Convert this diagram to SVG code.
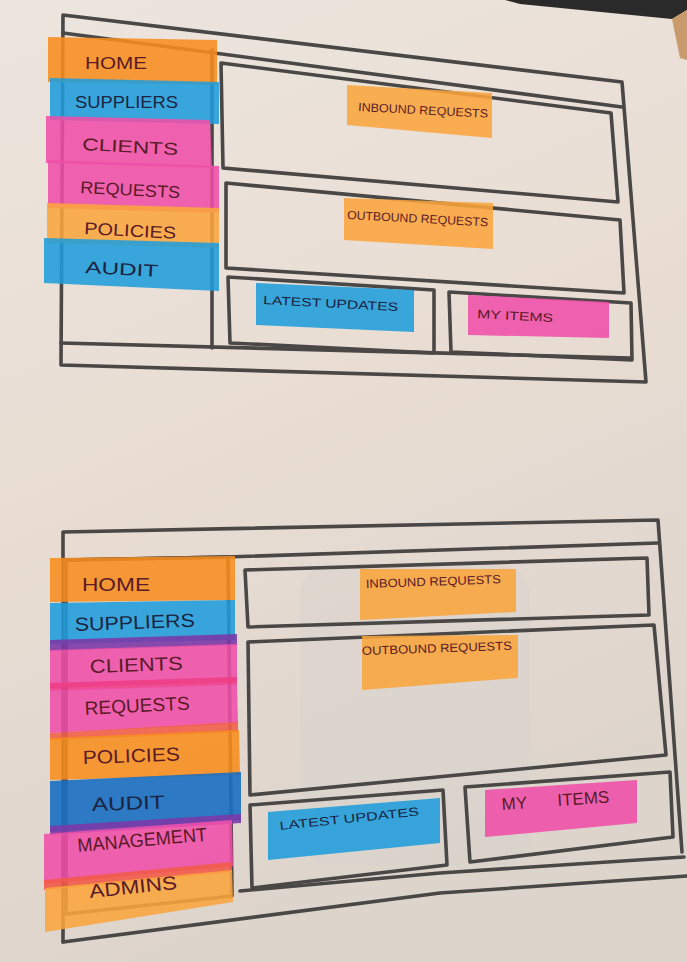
<svg xmlns="http://www.w3.org/2000/svg" width="687" height="962" viewBox="0 0 687 962">
<defs>
<linearGradient id="paper" x1="0" y1="0" x2="0.3" y2="1">
<stop offset="0" stop-color="#ece5de"/>
<stop offset="0.5" stop-color="#e9ddd3"/>
<stop offset="1" stop-color="#ddd4cc"/>
</linearGradient>
<style>
.ln{fill:none;stroke:#4a4747;stroke-width:3.6;stroke-linejoin:round;stroke-linecap:round}
.or{fill:#f78d1e;opacity:0.88}
.lo{fill:#fba53e;opacity:0.88}
.bl{fill:#1f9ddc;opacity:0.88}
.db{fill:#1a6fc2;opacity:0.9}
.pk{fill:#ef4fa9;opacity:0.88}
.t{font-family:"Liberation Sans",Arial,sans-serif;fill:#5a1a26;font-size:17px}
.b{fill:#1b2442}
.m{font-size:19px}
.s{font-size:12px}
</style>
</defs>
<rect width="687" height="962" fill="url(#paper)"/>
<polygon points="505,0 687,0 687,10 672,19 520,4" fill="#2b2a2a"/>
<polygon points="672,19 687,10 687,60 680,58" fill="#c99a6c"/>
<rect x="300" y="565" width="230" height="300" rx="30" fill="#d8d2cc" opacity="0.45"/>

<g id="connectors">
<!-- top wireframe -->
<polygon class="ln" points="63,15 622,82 646,382 61,365"/>
<polyline class="ln" points="63,33 622,107"/>
<polyline class="ln" points="61,343 630,358"/>
<polyline class="ln" points="212,50 212,348"/>
<polygon class="ln" points="221,63 611,113 618,202 223,168"/>
<polygon class="ln" points="226,183 620,220 624,293 226,268"/>
<polygon class="ln" points="228,277 434,290 434,353 230,343"/>
<polygon class="ln" points="449,292 631,303 632,360 451,352"/>
<!-- bottom wireframe -->
<polyline class="ln" points="63,942 63,532 658,520 682,852"/>
<polyline class="ln" points="63,560 227,557 658,543"/>
<polyline class="ln" points="240,891 440,873 684,857"/>
<polyline class="ln" points="63,942 440,893 687,876"/>
<polygon class="ln" points="66,560 228,557 232,896 66,914"/>
<polygon class="ln" points="245,570 647,558 649,615 248,627"/>
<polygon class="ln" points="248,642 654,625 666,755 250,795"/>
<polygon class="ln" points="250,805 443,790 447,865 252,888"/>
<polygon class="ln" points="465,787 670,772 673,837 470,862"/>
</g>

<!-- top sidebar -->
<g id="t-home"><polygon class="or" points="48,37 217,40 217,85 48,82"/><text class="t" x="85" y="69" textLength="62" lengthAdjust="spacingAndGlyphs">HOME</text></g>
<g id="t-suppliers"><polygon class="bl" points="50,78 219,82 219,124 50,120"/><text class="t b" x="75" y="108" textLength="103" lengthAdjust="spacingAndGlyphs">SUPPLIERS</text></g>
<g id="t-clients"><polygon class="pk" points="46,116 210,120 212,168 46,163"/><text class="t" x="82" y="150" textLength="96" lengthAdjust="spacingAndGlyphs" transform="rotate(3 82 150)">CLIENTS</text></g>
<g id="t-requests"><polygon class="pk" points="48,160 219,166 219,213 48,208"/><text class="t" x="80" y="193" textLength="100" lengthAdjust="spacingAndGlyphs" transform="rotate(3 80 193)">REQUESTS</text></g>
<g id="t-policies"><polygon class="lo" points="47,203 219,208 219,248 47,243"/><text class="t" x="84" y="234" textLength="92" lengthAdjust="spacingAndGlyphs" transform="rotate(3 84 234)">POLICIES</text></g>
<g id="t-audit"><polygon class="bl" points="44,238 219,243 219,291 44,283"/><text class="t b" x="85" y="273" textLength="73" lengthAdjust="spacingAndGlyphs" transform="rotate(3 85 273)">AUDIT</text></g>
<!-- top content -->
<g id="t-inbound"><polygon class="lo" points="347,85 492,93 492,138 347,125"/><text class="t s" x="358" y="111" textLength="130" lengthAdjust="spacingAndGlyphs" transform="rotate(3 358 111)">INBOUND REQUESTS</text></g>
<g id="t-outbound"><polygon class="lo" points="344,198 493,203 493,249 344,240"/><text class="t s" x="347" y="219" textLength="141" lengthAdjust="spacingAndGlyphs" transform="rotate(3 347 219)">OUTBOUND REQUESTS</text></g>
<g id="t-latest"><polygon class="bl" points="256,283 414,290 414,332 256,325"/><text class="t s b" x="263" y="304" textLength="135" lengthAdjust="spacingAndGlyphs" transform="rotate(3 263 304)">LATEST UPDATES</text></g>
<g id="t-myitems"><polygon class="pk" points="468,295 609,302 609,338 468,335"/><text class="t s" x="477" y="318" textLength="76" lengthAdjust="spacingAndGlyphs" transform="rotate(3 477 318)">MY ITEMS</text></g>

<!-- bottom sidebar -->
<g id="b-home"><polygon class="or" points="50,558 235,556 235,600 50,602"/><text class="t m" x="82" y="591" textLength="68" lengthAdjust="spacingAndGlyphs">HOME</text></g>
<g id="b-suppliers"><polygon class="bl" points="50,603 235,600 235,640 50,644"/><text class="t m b" x="75" y="631" textLength="120" lengthAdjust="spacingAndGlyphs" transform="rotate(-2 75 631)">SUPPLIERS</text></g>
<polygon points="50,640 237,634 237,645 50,651" fill="#7b3aa8" opacity="0.9"/>
<g id="b-clients"><polygon class="pk" points="50,650 237,644 237,682 50,688"/><text class="t m" x="90" y="673" textLength="93" lengthAdjust="spacingAndGlyphs" transform="rotate(-2 90 673)">CLIENTS</text></g>
<polygon points="50,683 237,677 237,685 50,691" fill="#ee3d86" opacity="0.9"/>
<g id="b-requests"><polygon class="pk" points="50,690 237,684 238,724 50,733"/><text class="t m" x="85" y="715" textLength="105" lengthAdjust="spacingAndGlyphs" transform="rotate(-3 85 715)">REQUESTS</text></g>
<polygon points="50,733 238,722 238,732 50,740" fill="#f3604a" opacity="0.9"/>
<g id="b-policies"><polygon class="or" points="50,738 239,730 240,775 50,780"/><text class="t m" x="83" y="764" textLength="97" lengthAdjust="spacingAndGlyphs" transform="rotate(-2 83 764)">POLICIES</text></g>
<g id="b-audit"><polygon class="db" points="50,781 241,772 241,820 50,832"/><text class="t m b" x="92" y="811" textLength="73" lengthAdjust="spacingAndGlyphs" transform="rotate(-2 92 811)">AUDIT</text></g>
<polygon points="50,826 241,814 241,823 50,835" fill="#7b3aa8" opacity="0.9"/>
<g id="b-management"><polygon class="pk" points="44,834 232,820 233,866 44,884"/><text class="t m" x="78" y="852" textLength="130" lengthAdjust="spacingAndGlyphs" transform="rotate(-5 78 852)">MANAGEMENT</text></g>
<polygon points="44,880 232,862 232,872 44,890" fill="#f25a4a" opacity="0.9"/>
<g id="b-admins"><polygon class="lo" points="45,888 232,870 233,902 45,932"/><text class="t m" x="90" y="898" textLength="88" lengthAdjust="spacingAndGlyphs" transform="rotate(-6 90 898)">ADMINS</text></g>
<!-- bottom content -->
<g id="b-inbound"><polygon class="lo" points="360,569 516,569 516,612 360,620"/><text class="t s" x="366" y="588" textLength="135" lengthAdjust="spacingAndGlyphs" transform="rotate(-2 366 588)">INBOUND REQUESTS</text></g>
<g id="b-outbound"><polygon class="lo" points="362,636 518,635 518,678 362,690"/><text class="t s" x="362" y="655" textLength="150" lengthAdjust="spacingAndGlyphs" transform="rotate(-2 362 655)">OUTBOUND REQUESTS</text></g>
<g id="b-latest"><polygon class="bl" points="268,812 440,798 440,843 268,860"/><text class="t s b" x="280" y="830" textLength="140" lengthAdjust="spacingAndGlyphs" transform="rotate(-6 280 830)">LATEST UPDATES</text></g>
<g id="b-myitems"><polygon class="pk" points="485,790 637,780 637,823 485,837"/><text class="t" x="502" y="810" word-spacing="26" transform="rotate(-4 502 810)" font-size="14">MY ITEMS</text></g>
</svg>
